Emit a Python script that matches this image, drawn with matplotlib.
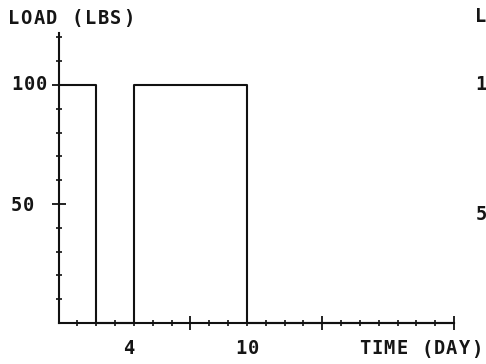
import matplotlib
matplotlib.use("Agg")
import matplotlib.pyplot as plt
from matplotlib.ticker import FixedLocator

# load schedule (step function): 100 lbs for days 0-2, off 2-4, 100 lbs 4-10, then off
step_days = [0, 2, 2, 4, 4, 10, 10, 21]
step_load = [100, 100, 0, 0, 100, 100, 0, 0]

x_major = [7, 14, 21]
x_minor = [d for d in range(1, 21) if d % 7]
y_major = [50, 100]
y_minor = [10, 20, 30, 40, 60, 70, 80, 90, 110, 120]

W, H = 486, 364
fig = plt.figure(figsize=(W / 100, H / 100), dpi=100)
fig.patch.set_facecolor("white")

# axes placed so day 0 / load 0 sits at pixel (58.5, 323)
x0, x1 = 58.5, 454.0
y0 = 323.0
px_per_lb = 2.38
ymax = 122
ax = fig.add_axes([x0 / W, (H - y0) / H, (x1 - x0) / W, ymax * px_per_lb / H])
ax.set_xlim(0, 21)
ax.set_ylim(0, ymax)

ax.plot(step_days, step_load, color="#111111", lw=1.5, clip_on=False)

for side in ("top", "right"):
    ax.spines[side].set_visible(False)
for side in ("left", "bottom"):
    ax.spines[side].set_linewidth(1.5)
    ax.spines[side].set_color("#111111")

ax.xaxis.set_major_locator(FixedLocator(x_major))
ax.xaxis.set_minor_locator(FixedLocator(x_minor))
ax.yaxis.set_major_locator(FixedLocator(y_major))
ax.yaxis.set_minor_locator(FixedLocator(y_minor))
ax.tick_params(which="major", direction="inout", length=10, width=1.3,
               color="#111111", labelbottom=False, labelleft=False)
ax.tick_params(which="minor", direction="inout", length=5, width=1.2, color="#111111")


def spaced_text(x, y, s, adv=12.5, size=13.5):
    """Plotter-style text: one glyph per cell, x = left edge, y = middle (pixels from top)."""
    for i, ch in enumerate(s):
        if ch == " ":
            continue
        fig.text((x + adv * (i + 0.5)) / W, (H - y) / H, ch, ha="center", va="center",
                 family="DejaVu Sans Mono", fontsize=size, fontweight="bold",
                 color="#151515")


spaced_text(7, 18.5, "LOAD (LBS)", adv=12.8)
spaced_text(11, 85, "100", adv=12)
spaced_text(10, 205.5, "50", adv=12)
spaced_text(123, 349, "4", adv=12)
spaced_text(235, 349, "10", adv=12)
spaced_text(358, 349, "TIME (DAY)", adv=12.5)

# edge of the neighbouring panel
spaced_text(475, 17, "L", adv=12)
spaced_text(475, 85, "1", adv=12)
spaced_text(475, 214, "5", adv=12)

fig.savefig("out.png", dpi=100, facecolor="white")
